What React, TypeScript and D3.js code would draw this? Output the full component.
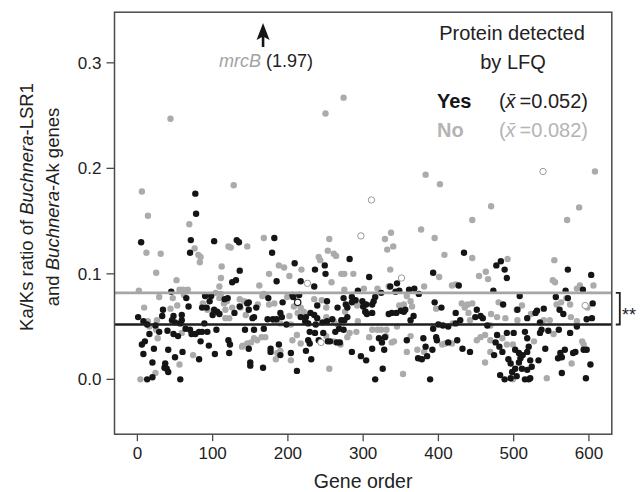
import React from "react";
import * as d3 from "d3";

// ---------- data ----------
const yesPoints: [number, number][] = [
  [77,0.176],[78,0.157],[5,0.130],[71,0.132],[70,0.120],[102,0.131],[132,0.132],[135,0.130],[136,0.103],[131,0.094],[126,0.092],[45,0.083],[34,0.066],[33,0.060],[48,0.060],[65,0.077],[68,0.069],[90,0.079],[98,0.079],[86,0.068],[92,0.068],[96,0.074],[102,0.066],[106,0.064],[109,0.062],[100,0.061],[120,0.077],[129,0.063],[136,0.069],[1,0.059],[8,0.055],[13,0.052],[24,0.051],[50,0.054],[59,0.056],[57,0.053],[64,0.048],[70,0.047],[72,0.043],[77,0.043],[89,0.053],[82,0.045],[86,0.045],[93,0.045],[105,0.047],[16,0.043],[29,0.045],[40,0.046],[48,0.043],[54,0.041],[10,0.036],[6,0.033],[84,0.036],[95,0.032],[121,0.037],[123,0.033],[8,0.024],[22,0.029],[41,0.028],[50,0.021],[60,0.026],[103,0.024],[122,0.025],[82,0.019],[20,0.016],[37,0.015],[36,0.011],[39,0.010],[41,0.007],[13,0.000],[20,0.002],[57,0.000],
  [46,0.056],[59,0.061],[116,0.076],
  [182,0.134],[179,0.120],[209,0.110],[217,0.093],[185,0.093],[174,0.077],[146,0.072],[193,0.073],[206,0.080],[207,0.078],[215,0.080],[235,0.088],[230,0.063],[235,0.061],[239,0.058],[239,0.070],[252,0.074],[236,0.104],[249,0.108],[250,0.100],[282,0.114],[293,0.084],[274,0.077],[285,0.078],[290,0.075],[299,0.074],[266,0.068],[277,0.071],[279,0.068],[285,0.073],[300,0.069],[303,0.064],[279,0.059],[271,0.056],[275,0.056],[259,0.057],[246,0.054],[252,0.055],[227,0.053],[237,0.052],[217,0.059],[224,0.059],[223,0.055],[198,0.052],[190,0.063],[192,0.059],[173,0.057],[180,0.057],[185,0.057],[155,0.059],[153,0.058],[158,0.068],[148,0.066],[148,0.073],[143,0.047],[155,0.047],[168,0.048],[148,0.029],[177,0.029],[177,0.026],[188,0.033],[190,0.023],[204,0.025],[224,0.027],[231,0.019],[227,0.037],[229,0.034],[241,0.037],[256,0.036],[265,0.035],[236,0.044],[247,0.044],[263,0.045],[285,0.026],[297,0.022],[304,0.018],[150,0.016],[150,0.013],[167,0.011],[212,0.008],
  [268,0.048],[253,0.036],[269,0.035],[274,0.047],[229,0.045],
  [434,0.120],[308,0.097],[393,0.101],[345,0.091],[336,0.088],[343,0.083],[348,0.084],[316,0.078],[314,0.074],[312,0.071],[304,0.071],[324,0.082],[303,0.064],[305,0.062],[312,0.063],[361,0.085],[368,0.086],[374,0.081],[334,0.062],[338,0.063],[344,0.063],[350,0.065],[354,0.064],[356,0.066],[367,0.060],[363,0.056],[395,0.073],[404,0.068],[427,0.089],[451,0.066],[449,0.059],[456,0.060],[459,0.058],[423,0.063],[429,0.056],[423,0.053],[400,0.052],[406,0.051],[413,0.050],[329,0.040],[321,0.039],[380,0.039],[393,0.048],[397,0.040],[398,0.037],[392,0.028],[383,0.031],[358,0.037],[325,0.035],[328,0.028],[312,0.029],[413,0.035],[425,0.037],[432,0.029],[442,0.026],[373,0.020],[378,0.019],[385,0.022],[326,0.010],[316,0.000],[389,0.000],
  [477,0.108],[483,0.112],[488,0.104],[491,0.096],[572,0.104],[603,0.099],[592,0.085],[569,0.084],[572,0.077],[556,0.078],[473,0.084],[508,0.079],[486,0.071],[505,0.066],[561,0.066],[566,0.062],[605,0.072],[604,0.058],[597,0.057],[584,0.050],[575,0.044],[518,0.058],[529,0.063],[531,0.065],[540,0.067],[535,0.054],[537,0.047],[535,0.044],[546,0.046],[560,0.047],[465,0.051],[478,0.042],[491,0.044],[500,0.044],[515,0.045],[518,0.039],[476,0.035],[481,0.031],[474,0.023],[485,0.026],[502,0.028],[507,0.025],[512,0.023],[509,0.020],[520,0.031],[518,0.026],[493,0.019],[496,0.015],[502,0.010],[498,0.007],[507,0.016],[511,0.010],[522,0.018],[524,0.012],[533,0.018],[518,0.009],[515,0.000],[520,0.000],[522,0.001],[482,0.004],[488,0.000],[496,0.001],[504,0.003],[542,0.029],[559,0.020],[564,0.021],[568,0.028],[562,0.025],[579,0.025],[582,0.026],[593,0.028],[597,0.028],[602,0.014],[564,0.006],[596,0.001],
];

const noPoints: [number, number][] = [
  [6,0.178],[14,0.155],[128,0.184],[69,0.147],[12,0.120],[31,0.119],[76,0.124],[81,0.118],[83,0.111],[121,0.126],[124,0.125],[25,0.101],[112,0.107],[111,0.096],[52,0.094],[109,0.088],[2,0.084],[56,0.085],[61,0.085],[67,0.085],[29,0.078],[47,0.077],[9,0.068],[53,0.070],[44,0.067],[87,0.072],[93,0.066],[100,0.063],[104,0.082],[111,0.081],[115,0.072],[126,0.068],[117,0.066],[117,0.058],[122,0.058],[14,0.055],[26,0.056],[16,0.050],[25,0.047],[27,0.039],[59,0.044],[139,0.031],[74,0.023],[56,0.014],[24,0.006],[4,0.000],[44,0.247],
  [62,0.080],[109,0.077],[119,0.074],[84,0.116],
  [146,0.126],[168,0.134],[188,0.108],[195,0.106],[175,0.100],[202,0.098],[218,0.104],[162,0.089],[168,0.081],[166,0.079],[136,0.076],[142,0.074],[160,0.071],[175,0.071],[182,0.072],[199,0.078],[208,0.069],[217,0.068],[221,0.064],[224,0.060],[235,0.076],[245,0.075],[251,0.068],[241,0.116],[243,0.113],[253,0.122],[261,0.119],[264,0.117],[255,0.133],[258,0.092],[271,0.100],[275,0.100],[287,0.100],[275,0.085],[301,0.086],[292,0.070],[251,0.059],[261,0.055],[266,0.052],[291,0.045],[137,0.068],[144,0.061],[202,0.060],[213,0.063],[182,0.055],[190,0.053],[204,0.052],[170,0.040],[155,0.039],[159,0.037],[165,0.040],[140,0.032],[146,0.034],[151,0.035],[186,0.025],[190,0.027],[184,0.019],[204,0.018],[217,0.034],[251,0.041],[270,0.033],[255,0.010],[250,0.252],[274,0.267],
  [171,0.080],[206,0.037],[212,0.042],[261,0.036],[279,0.040],[282,0.044],[293,0.055],[276,0.064],
  [383,0.194],[402,0.185],[470,0.164],[445,0.151],[377,0.142],[395,0.134],[329,0.133],[337,0.139],[340,0.126],[332,0.123],[408,0.118],[445,0.115],[336,0.104],[401,0.097],[454,0.098],[463,0.102],[466,0.095],[334,0.088],[319,0.086],[358,0.079],[363,0.074],[381,0.088],[348,0.070],[354,0.071],[365,0.069],[397,0.067],[418,0.089],[423,0.090],[431,0.072],[439,0.071],[435,0.068],[445,0.072],[419,0.053],[440,0.063],[442,0.056],[469,0.051],[312,0.047],[319,0.047],[324,0.047],[331,0.047],[345,0.050],[308,0.040],[330,0.041],[338,0.035],[363,0.041],[341,0.036],[358,0.026],[372,0.028],[381,0.026],[405,0.033],[409,0.034],[418,0.034],[451,0.037],[456,0.040],[462,0.042],[469,0.026],[462,0.016],[353,0.005],
  [587,0.163],[571,0.151],[492,0.114],[554,0.113],[552,0.094],[555,0.092],[606,0.089],[588,0.089],[584,0.086],[570,0.077],[480,0.073],[511,0.070],[504,0.066],[557,0.071],[563,0.073],[575,0.071],[576,0.059],[598,0.068],[584,0.055],[470,0.062],[478,0.059],[489,0.058],[505,0.056],[523,0.062],[540,0.056],[548,0.056],[553,0.043],[469,0.037],[485,0.039],[491,0.033],[499,0.033],[527,0.036],[499,0.000],[544,0.001],[577,0.015],[591,0.036],[593,0.033],[608,0.197],
];

const openNoPoints: [number, number][] = [
  [226,0.091],[244,0.035],[297,0.136],[311,0.170],[351,0.096],[539,0.197],[595,0.070],
];
const openYesPoints: [number, number][] = [[213,0.073]];

const meanYes = 0.052;
const meanNo = 0.082;
const xTicks = [0, 100, 200, 300, 400, 500, 600];
const yTicks = [0, 0.1, 0.2, 0.3];
const yTickLabels = ["0.0", "0.1", "0.2", "0.3"];
const mrcBGene = 167;
const mrcBValue = "(1.97)";

// ---------- styles ----------
const W = 643, H = 492;
const plot = { left: 114.5, right: 611.8, top: 12.2, bottom: 434.2 };
const FONT = "'Liberation Sans', Arial, Helvetica, sans-serif";
const BLACK = "#151515";
const GRAY = "#ababab";

export default function App() {
  const x = d3.scaleLinear().domain([-30.4, 630.4]).range([plot.left, plot.right]);
  const y = d3.scaleLinear().domain([-0.052, 0.348]).range([plot.bottom, plot.top]);
  const r = 3.2;
  const ax = x(mrcBGene);
  const yMidLabel = 207;

  return (
    <svg width={W} height={H} style={{ position: "absolute", left: 0, top: 0, background: "#fff" }}
      fontFamily={FONT}>
      {/* points */}
      <g>
        {noPoints.map((d, i) => (
          <circle key={"n" + i} cx={x(d[0])} cy={y(d[1])} r={r} fill={GRAY} />
        ))}
        {yesPoints.map((d, i) => (
          <circle key={"y" + i} cx={x(d[0])} cy={y(d[1])} r={r} fill={BLACK} />
        ))}
        {openNoPoints.map((d, i) => (
          <circle key={"on" + i} cx={x(d[0])} cy={y(d[1])} r={r} fill="#fff" stroke="#9a9a9a" strokeWidth={1} />
        ))}
        {openYesPoints.map((d, i) => (
          <circle key={"oy" + i} cx={x(d[0])} cy={y(d[1])} r={r} fill="#fff" stroke={BLACK} strokeWidth={1.2} />
        ))}
      </g>
      {/* mean lines */}
      <line x1={plot.left} x2={plot.right} y1={y(meanNo)} y2={y(meanNo)} stroke="#a6a6a6" strokeWidth={2.6} />
      <line x1={plot.left} x2={plot.right} y1={y(meanYes)} y2={y(meanYes)} stroke="#1e1e1e" strokeWidth={2.6} />
      {/* frame */}
      <rect x={plot.left} y={plot.top} width={plot.right - plot.left} height={plot.bottom - plot.top}
        fill="none" stroke="#4a4a4a" strokeWidth={1.5} />
      {/* y axis */}
      {yTicks.map((t, i) => (
        <g key={"yt" + i}>
          <line x1={plot.left - 8} x2={plot.left} y1={y(t)} y2={y(t)} stroke="#4a4a4a" strokeWidth={1.3} />
          <text x={plot.left - 13} y={y(t) + 6} textAnchor="end" fontSize={17} fill="#222">{yTickLabels[i]}</text>
        </g>
      ))}
      {/* x axis */}
      {xTicks.map((t, i) => (
        <g key={"xt" + i}>
          <line x1={x(t)} x2={x(t)} y1={plot.bottom} y2={plot.bottom + 7} stroke="#4a4a4a" strokeWidth={1.3} />
          <text x={x(t)} y={plot.bottom + 25} textAnchor="middle" fontSize={17} fill="#222">{t}</text>
        </g>
      ))}
      <text x={(plot.left + plot.right) / 2} y={488} textAnchor="middle" fontSize={19.5} fill="#222">Gene order</text>
      {/* y axis title */}
      <g transform={`translate(33, ${yMidLabel}) rotate(-90)`}>
        <text textAnchor="middle" fontSize={18.5} fill="#222">
          Ka/Ks ratio of <tspan fontStyle="italic">Buchnera</tspan>-LSR1
        </text>
      </g>
      <g transform={`translate(59, ${yMidLabel}) rotate(-90)`}>
        <text textAnchor="middle" fontSize={18.5} fill="#222">
          and <tspan fontStyle="italic">Buchnera</tspan>-Ak genes
        </text>
      </g>
      {/* mrcB arrow */}
      <line x1={ax} x2={ax} y1={36} y2={47} stroke={BLACK} strokeWidth={2.6} />
      <path d={`M${ax},23 L${ax + 6.5},40 L${ax},36.5 L${ax - 6.5},40 Z`} fill={BLACK} />
      <text x={ax + 3} y={66.5} textAnchor="middle" fontSize={18}>
        <tspan fontStyle="italic" fill="#a3a3a3">mrcB</tspan>
        <tspan fill="#222"> {mrcBValue}</tspan>
      </text>
      {/* legend */}
      <text x={512} y={39.5} textAnchor="middle" fontSize={20} fill="#222">Protein detected</text>
      <text x={513} y={68.5} textAnchor="middle" fontSize={20} fill="#222">by LFQ</text>
      <text x={437} y={108} fontSize={20} fontWeight="bold" fill={BLACK}>Yes</text>
      <text x={588} y={108} textAnchor="end" fontSize={20} fill="#222">
        (<tspan fontStyle="italic">x̄</tspan>{"\u2009"}={meanYes.toFixed(3)})
      </text>
      <text x={437} y={136.5} fontSize={20} fontWeight="bold" fill="#b4b4b4">No</text>
      <text x={588} y={136.5} textAnchor="end" fontSize={20} fill="#b4b4b4">
        (<tspan fontStyle="italic">x̄</tspan>{"\u2009"}={meanNo.toFixed(3)})
      </text>
      {/* significance bracket */}
      <path d={`M${plot.right + 4},${y(meanNo)} H${plot.right + 8} V${y(meanYes)} H${plot.right + 4}`}
        fill="none" stroke="#222" strokeWidth={1.8} />
      <text x={622} y={321} fontSize={18} fill="#222">**</text>
    </svg>
  );
}
